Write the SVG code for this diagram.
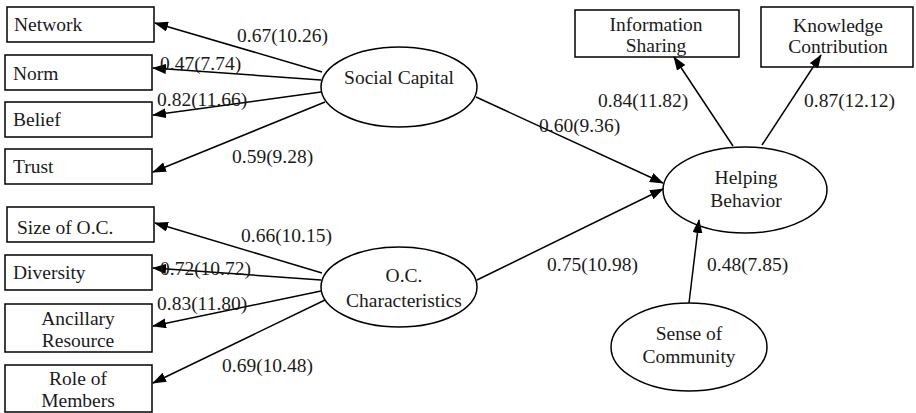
<svg xmlns="http://www.w3.org/2000/svg" width="916" height="413" viewBox="0 0 916 413" font-family="'Liberation Serif', 'DejaVu Serif', 'Times New Roman', serif">
<style>
.box{fill:#fff;stroke:#000;stroke-width:1.5}
.ell{fill:#fff;stroke:#000;stroke-width:1.5}
text{font-family:'Liberation Serif','DejaVu Serif',serif;font-size:19.5px;fill:#1a1a1a}
.c{text-anchor:middle}
.con line{stroke:#000;stroke-width:1.5;marker-end:url(#ah)}
</style>
<defs>
<marker id="ah" markerUnits="userSpaceOnUse" markerWidth="14" markerHeight="10" refX="13" refY="5" orient="auto">
<path d="M0,0 L14,5 L0,10 Z" fill="#000"/>
</marker>
</defs>
<g id="network"><rect class="box" x="7" y="7" width="147" height="35"/><text x="14" y="31">Network</text></g>
<g id="norm"><rect class="box" x="5" y="55" width="147" height="35"/><text x="13" y="80">Norm</text></g>
<g id="belief"><rect class="box" x="5" y="102" width="147" height="35"/><text x="13" y="126">Belief</text></g>
<g id="trust"><rect class="box" x="5" y="149" width="147" height="35"/><text x="13" y="173">Trust</text></g>
<g id="size"><rect class="box" x="7" y="207" width="147" height="35"/><text x="17" y="234">Size of O.C.</text></g>
<g id="diversity"><rect class="box" x="5" y="255" width="147" height="35"/><text x="13" y="279">Diversity</text></g>
<g id="ancillary"><rect class="box" x="5" y="304" width="147" height="48"/><text class="c" x="78" y="325">Ancillary</text><text class="c" x="78" y="347">Resource</text></g>
<g id="role"><rect class="box" x="5" y="365" width="147" height="47"/><text class="c" x="78" y="385">Role of</text><text class="c" x="78" y="407">Members</text></g>
<g id="social-capital"><ellipse class="ell" cx="399" cy="87" rx="78" ry="40"/><text class="c" x="399" y="84">Social Capital</text></g>
<g id="oc-characteristics"><ellipse class="ell" cx="399" cy="287" rx="78" ry="40"/><text class="c" x="404" y="282">O.C.</text><text class="c" x="404" y="307">Characteristics</text></g>
<g id="information-sharing"><rect class="box" x="575" y="10" width="164" height="47"/><text class="c" x="656" y="31">Information</text><text class="c" x="656" y="52">Sharing</text></g>
<g id="knowledge-contribution"><rect class="box" x="761" y="7" width="152" height="60"/><text class="c" x="838" y="32">Knowledge</text><text class="c" x="838" y="53">Contribution</text></g>
<g id="helping-behavior"><ellipse class="ell" cx="745" cy="190" rx="82" ry="43"/><text class="c" x="746" y="184">Helping</text><text class="c" x="746" y="207">Behavior</text></g>
<g id="sense-of-community"><ellipse class="ell" cx="689" cy="347" rx="78" ry="44"/><text class="c" x="689" y="340">Sense of</text><text class="c" x="689" y="363">Community</text></g>
<g id="connectors" class="con">
<line x1="322" y1="72" x2="155" y2="23"/>
<line x1="321" y1="80" x2="153" y2="68"/>
<line x1="321" y1="92" x2="153" y2="115"/>
<line x1="325" y1="102" x2="153" y2="172"/>
<line x1="322" y1="273" x2="155" y2="223"/>
<line x1="321" y1="280" x2="153" y2="268"/>
<line x1="321" y1="291" x2="153" y2="326"/>
<line x1="325" y1="300" x2="153" y2="383"/>
<line x1="476" y1="97" x2="663" y2="183"/>
<line x1="477" y1="280" x2="663" y2="189"/>
<line x1="733" y1="146" x2="674" y2="57"/>
<line x1="762" y1="145" x2="821" y2="55"/>
<line x1="689" y1="303" x2="699" y2="220"/>
</g>
<g id="labels">
<text x="237" y="42">0.67(10.26)</text>
<text x="160" y="70">0.47(7.74)</text>
<text x="157" y="106">0.82(11.66)</text>
<text x="232" y="163">0.59(9.28)</text>
<text x="241" y="242">0.66(10.15)</text>
<text x="160" y="275">0.72(10.72)</text>
<text x="157" y="310">0.83(11.80)</text>
<text x="222" y="372">0.69(10.48)</text>
<text x="539" y="132">0.60(9.36)</text>
<text x="598" y="107">0.84(11.82)</text>
<text x="804" y="107">0.87(12.12)</text>
<text x="547" y="271">0.75(10.98)</text>
<text x="707" y="271">0.48(7.85)</text>
</g>
</svg>
